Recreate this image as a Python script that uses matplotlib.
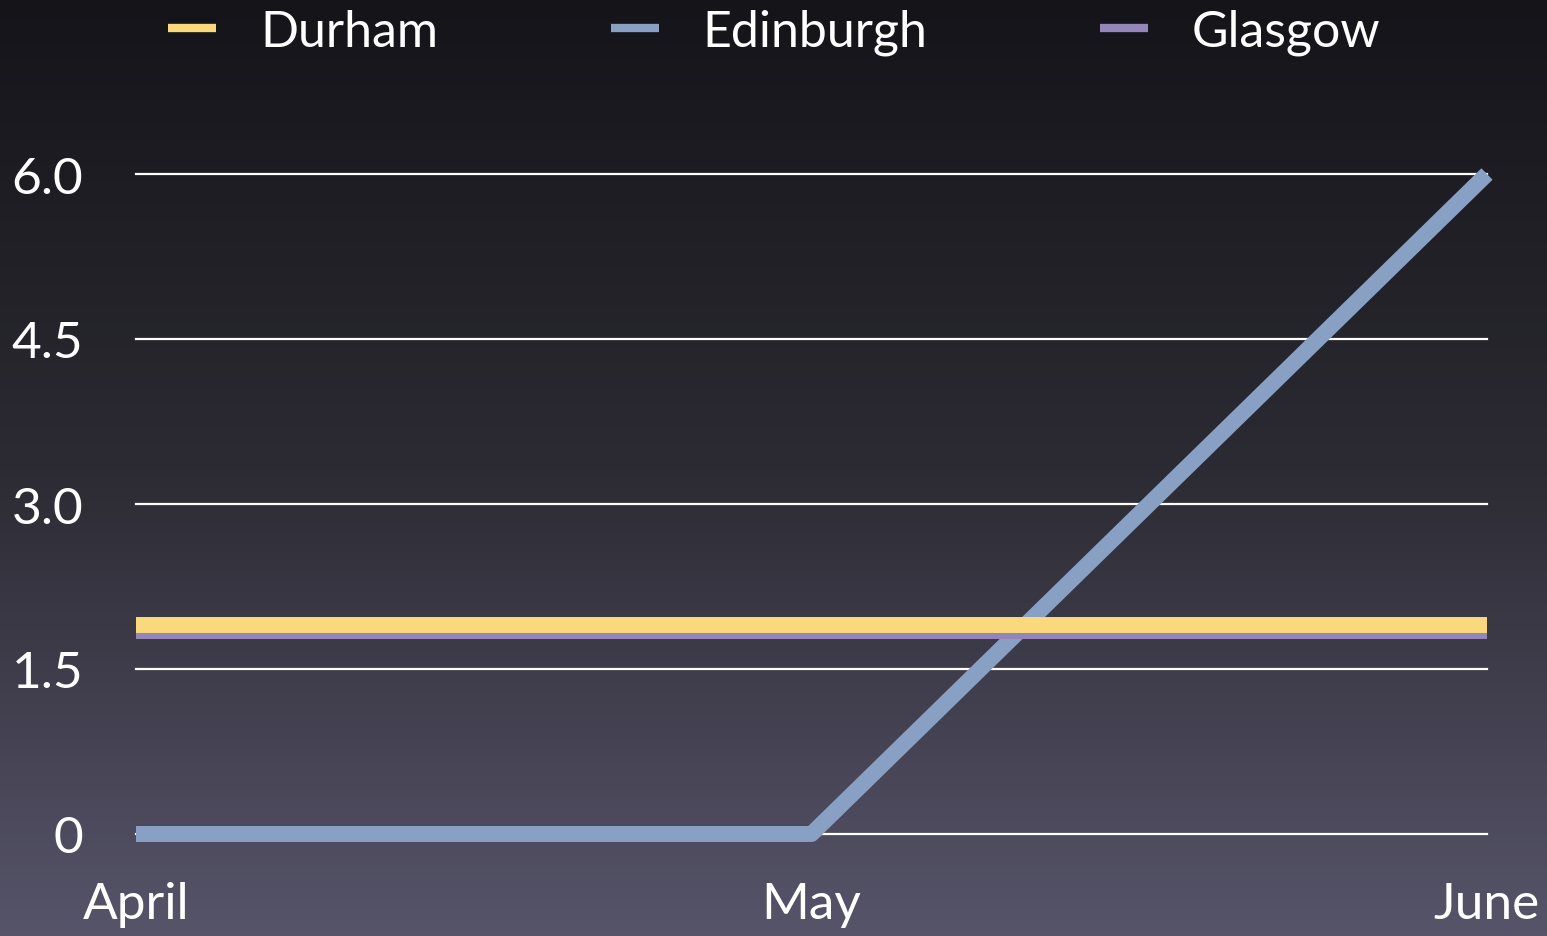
import matplotlib.pyplot as plt
import numpy as np
from matplotlib.colors import LinearSegmentedColormap

months = ["April", "May", "June"]
durham = [1.9, 1.9, 1.9]
edinburgh = [0.0, 0.0, 6.0]
glasgow = [1.85, 1.85, 1.85]
yticks = [0, 1.5, 3.0, 4.5, 6.0]
ytick_labels = ["0", "1.5", "3.0", "4.5", "6.0"]

plt.rcParams['font.family'] = ['Lato', 'DejaVu Sans']

fig = plt.figure(figsize=(15.47, 9.37), dpi=100)

# background gradient
bg = fig.add_axes([0, 0, 1, 1], zorder=-10)
grad = np.linspace(0, 1, 256).reshape(-1, 1)
cmap = LinearSegmentedColormap.from_list("bg", ["#141419", "#2c2b33", "#57546a"])
bg.imshow(grad, aspect="auto", cmap=cmap, extent=[0, 1, 0, 1], origin="upper")
bg.axis("off")

W, H = 1547, 937
ax = fig.add_axes([136 / W, 102 / H, (1487 - 136) / W, (835 - 175) / H])
ax.set_facecolor("none")
x = np.arange(len(months))

for y in yticks:
    ax.axhline(y, color="white", lw=1.6, zorder=1, clip_on=False)

ax.plot(x, edinburgh, color="#87a0c4", lw=11.5, label="Edinburgh", zorder=3,
        clip_on=False, solid_capstyle="butt", solid_joinstyle="round")
ax.plot(x, glasgow, color="#9485ba", lw=11.5, label="Glasgow", zorder=4,
        clip_on=False, solid_capstyle="butt")
ax.plot(x, durham, color="#f9d97c", lw=11.5, label="Durham", zorder=5,
        clip_on=False, solid_capstyle="butt")

ax.set_xlim(0, 2)
ax.set_ylim(0, 6)
ax.set_xticks(x)
ax.set_xticklabels(months)
ax.set_yticks(yticks)
ax.set_yticklabels(ytick_labels)
ax.tick_params(axis="both", length=0, colors="white", labelsize=37)
ax.tick_params(axis="y", pad=38)
ax.tick_params(axis="x", pad=34)
for s in ax.spines.values():
    s.set_visible(False)

h, l = ax.get_legend_handles_labels()
order = [2, 0, 1]
leg = fig.legend([h[i] for i in order], [l[i] for i in order],
                 loc="center left", bbox_to_anchor=(168 / W, 1 - 33 / H),
                 ncol=3, frameon=False, fontsize=36, labelcolor="white",
                 handlelength=0.96, handletextpad=0.88, columnspacing=3.45,
                 borderaxespad=0, borderpad=0)
for lh in leg.get_lines():
    lh.set_linewidth(6)

fig.savefig("out.png", dpi=100)
